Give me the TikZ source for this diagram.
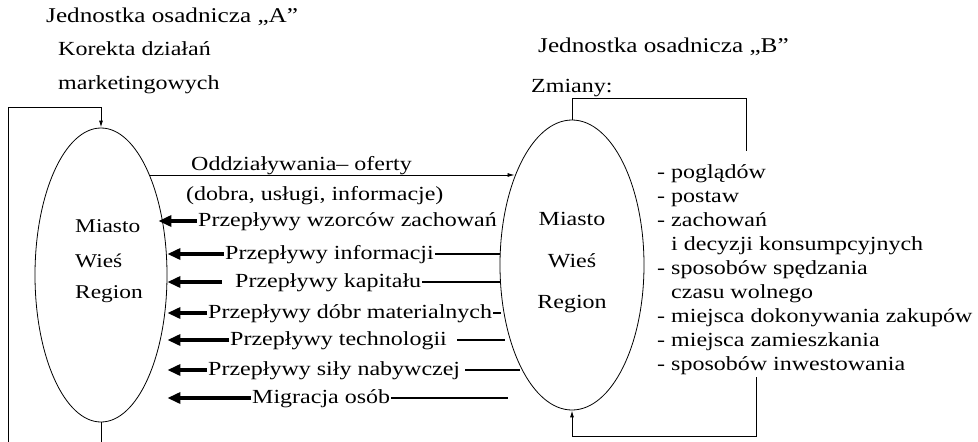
\documentclass[tikz,border=0pt]{standalone}
\usepackage{fontspec}
\setmainfont{Liberation Serif}[FakeStretch=1.2]
\usetikzlibrary{arrows.meta,shapes.geometric,calc}
\tikzset{%
  % classes
  txt/.style={anchor=west, inner sep=1pt, text height=14pt, text depth=4pt, font=\fontsize{20}{24}\selectfont},
  small/.style={txt, font=\fontsize{19.5}{22}\selectfont},
  place/.style={draw, ellipse, inner sep=0pt, line width=0.8pt},
  % edge styles
  flow/.style={-{Triangle[length=13pt,width=11pt]}, line width=3.2pt},
  tail/.style={line width=2pt},
  offer/.style={-{Latex[length=7pt,width=4pt]}, line width=0.8pt},
  feed/.style={line width=1pt},
  feedin/.style={feed, -{Latex[length=7pt,width=4pt]}},
}

\begin{document}
\begin{tikzpicture}[x=1pt, y=-1pt]
  \useasboundingbox (0,0) rectangle (978,442);

  % headers
  \node[txt, font=\fontsize{21}{24}\selectfont] (headA) at (45,17) {Jednostka osadnicza „A”};
  \node[txt] (corr1) at (57,50) {Korekta działań};
  \node[txt] (corr2) at (57,84) {marketingowych};
  \node[txt, font=\fontsize{21}{24}\selectfont] (headB) at (537,47) {Jednostka osadnicza „B”};
  \node[txt] (zmiany) at (530,87) {Zmiany:};

  % settlements
  \node[place, minimum width=132pt, minimum height=294pt] (ellA) at (101,275) {};
  \node[place, minimum width=144pt, minimum height=290pt] (ellB) at (572,265) {};
  \node[small] (aMiasto) at (74,227) {Miasto};
  \node[small] (aWies) at (74,262) {Wieś};
  \node[small] (aRegion) at (74,293) {Region};
  \node[txt, anchor=center] (bMiasto) at (572,220) {Miasto};
  \node[txt, anchor=center] (bWies) at (572,262) {Wieś};
  \node[txt, anchor=center] (bRegion) at (572,303) {Region};

  % offer
  \node[txt] (offer) at (190,165) {Oddziaływania– oferty};
  \node[txt] (goods) at (185,195) {(dobra, usługi, informacje)};
  \draw[offer] (ellA.64) -- (ellB.123 |- ellA.64);

  % flows
  \node[txt] (f1) at (197,221) {Przepływy wzorców zachowań};
  \node[txt] (f2) at (224,254) {Przepływy informacji};
  \node[txt] (f3) at (234,282) {Przepływy kapitału};
  \node[txt] (f4) at (207,313) {Przepływy dóbr materialnych};
  \node[txt] (f5) at (229,340) {Przepływy technologii};
  \node[txt] (f6) at (207,370) {Przepływy siły nabywczej};
  \node[txt] (f7) at (251,398) {Migracja osób};

  \draw[flow] (f1.west) -- ($(ellA.east |- f1.west)+(-9,0)$);
  \draw[flow] (f2.west) -- (ellA.east |- f2.west);
  \draw[flow] ($(f3.west)+(-12,0)$) -- (ellA.east |- f3.west);
  \draw[flow] (f4.west) -- (ellA.east |- f4.west);
  \draw[flow] (f5.west) -- (ellA.east |- f5.west);
  \draw[flow] (f6.west) -- (ellA.east |- f6.west);
  \draw[flow] (f7.west) -- (ellA.east |- f7.west);

  \draw[tail] (f2.east) -- (ellB.west |- f2.east);
  \draw[tail] (f3.east) -- (ellB.west |- f3.east);
  \draw[tail] (f4.east) -- ($(ellB.west |- f4.east)+(1,0)$);
  \draw[tail] ($(f5.east)+(9,0)$) -- ($(ellB.west |- f5.east)+(5,0)$);
  \draw[tail] ($(f6.east)+(4,0)$) -- ($(ellB.west |- f6.east)+(20,0)$);
  \draw[tail] (f7.east) -- ($(ellB.west |- f7.east)+(8,0)$);

  % changes
  \node[anchor=north west, align=left, inner sep=0pt, font=\fontsize{20}{24}\selectfont] (changes) at (657,164)
    {- poglądów\\ - postaw\\ - zachowań\\ \hphantom{- }i decyzji konsumpcyjnych\\
     - sposobów spędzania\\ \hphantom{- }czasu wolnego\\ - miejsca dokonywania zakupów\\
     - miejsca zamieszkania\\ - sposobów inwestowania};

  % feedback
  \coordinate (cutA) at (8,442);
  \draw[feedin] (cutA) |- ($(ellA.north)+(0,-20)$) -- (ellA.north);
  \draw[feed] (ellA.south) -- (ellA.south |- cutA);
  \coordinate (zmEnd) at (746,151);
  \draw[feed] (ellB.north) -- ($(ellB.north)+(0,-21)$) -| (zmEnd);
  \coordinate (zmStart) at (756,377);
  \draw[feedin] (zmStart) |- ($(ellB.south)+(0,26)$) -- (ellB.south);
\end{tikzpicture}
\end{document}
